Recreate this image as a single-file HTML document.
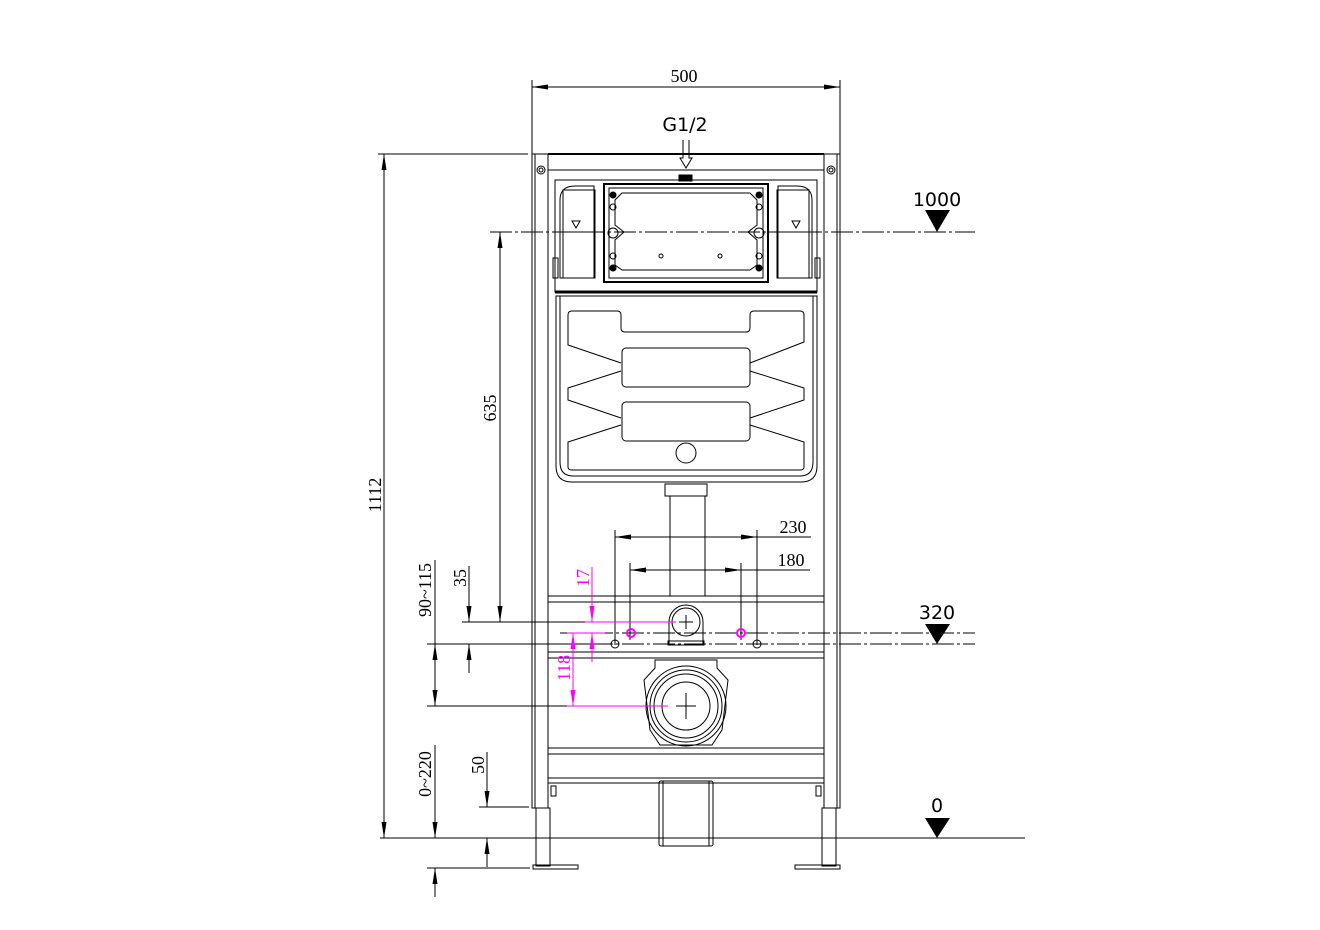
<!DOCTYPE html>
<html><head><meta charset="utf-8"><style>
html,body{margin:0;padding:0;background:#fff}
svg{display:block}
text{font-family:"Liberation Serif",serif;font-size:18px;fill:#000}
</style></head><body>
<svg width="1320" height="930" viewBox="0 0 1320 930" xmlns="http://www.w3.org/2000/svg">
<defs>
<marker id="a" viewBox="0 0 16 5" refX="16" refY="2.5" markerWidth="16" markerHeight="5" markerUnits="userSpaceOnUse" orient="auto-start-reverse"><path d="M0,0 L16,2.5 L0,5z" fill="#000"/></marker>
<marker id="m" viewBox="0 0 16 5" refX="16" refY="2.5" markerWidth="16" markerHeight="5" markerUnits="userSpaceOnUse" orient="auto-start-reverse"><path d="M0,0 L16,2.5 L0,5z" fill="#f0f"/></marker>
</defs>
<g stroke="#000" stroke-width="1" fill="none">
<line x1="532" y1="80" x2="532" y2="154"/><line x1="840" y1="80" x2="840" y2="154"/>
<line x1="532" y1="87" x2="840" y2="87" marker-start="url(#a)" marker-end="url(#a)"/>
<path d="M683,140 V158 H680 L686,168 L692,158 H689 V140"/>
<line x1="378" y1="154" x2="528" y2="154"/>
<line x1="384" y1="154" x2="384" y2="838" marker-start="url(#a)" marker-end="url(#a)"/>
<line x1="380" y1="838" x2="1025" y2="838"/>
<line x1="490" y1="232" x2="975" y2="232" stroke-dasharray="22,3,3,3"/>
<line x1="500" y1="232" x2="500" y2="622" marker-start="url(#a)" marker-end="url(#a)"/>
<line x1="560" y1="633" x2="975" y2="633" stroke-dasharray="22,3,3,3"/>
<line x1="560" y1="644" x2="975" y2="644" stroke-dasharray="22,3,3,3"/>
<line x1="427" y1="644" x2="610" y2="644"/>
<line x1="462" y1="622" x2="585" y2="622"/>
<line x1="427" y1="706" x2="567" y2="706"/>
<line x1="435" y1="560" x2="435" y2="644"/>
<line x1="435" y1="644" x2="435" y2="706" marker-start="url(#a)" marker-end="url(#a)"/>
<line x1="469" y1="566" x2="469" y2="622" marker-end="url(#a)"/>
<line x1="469" y1="644" x2="469" y2="673" marker-start="url(#a)"/>
<line x1="615" y1="530" x2="615" y2="645"/><line x1="757" y1="530" x2="757" y2="645"/>
<line x1="615" y1="537" x2="757" y2="537" marker-start="url(#a)" marker-end="url(#a)"/>
<line x1="757" y1="537" x2="811" y2="537"/>
<line x1="630" y1="563" x2="630" y2="640"/><line x1="741" y1="563" x2="741" y2="640"/>
<line x1="630" y1="570" x2="741" y2="570" marker-start="url(#a)" marker-end="url(#a)"/>
<line x1="741" y1="570" x2="810" y2="570"/>
<circle cx="615" cy="644" r="4"/><circle cx="757" cy="644" r="4"/>
<line x1="427" y1="868" x2="530" y2="868"/>
<line x1="479" y1="807" x2="529" y2="807"/>
<line x1="435" y1="745" x2="435" y2="838" marker-end="url(#a)"/>
<line x1="435" y1="868" x2="435" y2="897" marker-start="url(#a)"/>
<line x1="487" y1="752" x2="487" y2="807" marker-end="url(#a)"/>
<line x1="487" y1="838" x2="487" y2="867" marker-start="url(#a)"/>

<rect x="532" y="154" width="16" height="654"/>
<rect x="824" y="154" width="16" height="654"/>
<line x1="535" y1="154" x2="535" y2="808"/><line x1="837" y1="154" x2="837" y2="808"/>
<line x1="548" y1="154" x2="824" y2="154" stroke-width="2"/>
<line x1="548" y1="170" x2="824" y2="170"/>
<circle cx="541" cy="170" r="4"/><circle cx="541" cy="170" r="2"/>
<circle cx="831" cy="170" r="4"/><circle cx="831" cy="170" r="2"/>
<rect x="536" y="808" width="14" height="58"/><rect x="822" y="808" width="14" height="58"/>
<rect x="533" y="865" width="45" height="4"/><rect x="795" y="865" width="45" height="4"/>
<rect x="551" y="786" width="5" height="10"/><rect x="816" y="786" width="5" height="10"/>
<rect x="555" y="180" width="262" height="112"/>
<path d="M575,186 H594 V278 H560 V200 Q560,186 575,186z"/>
<path d="M797,186 H778 V278 H812 V200 Q812,186 797,186z"/>
<rect x="563" y="190" width="32" height="88"/>
<rect x="777" y="190" width="32" height="88"/>
<line x1="563" y1="232" x2="595" y2="232"/><line x1="777" y1="232" x2="809" y2="232"/>
<path d="M572,221 h8 l-4,7z"/><path d="M792,221 h8 l-4,7z"/>
<rect x="553" y="258" width="5" height="20"/><rect x="815" y="258" width="5" height="20"/>
<rect x="604" y="184" width="164" height="98" stroke-width="2"/>
<rect x="609" y="188" width="154" height="90"/>
<path d="M622,193 H750 L757,200 V225 L748,232 L757,240 V265 L750,270 H622 L615,265 V240 L624,232 L615,225 V200z"/>
<rect x="679" y="175" width="13" height="6" fill="#000"/>
<circle cx="613" cy="195" r="3" fill="#000"/><circle cx="759" cy="195" r="3" fill="#000"/>
<circle cx="613" cy="268" r="3" fill="#000"/><circle cx="759" cy="268" r="3" fill="#000"/>
<circle cx="613" cy="233" r="5"/><circle cx="759" cy="233" r="5"/>
<circle cx="613" cy="207" r="3"/><circle cx="759" cy="207" r="3"/>
<circle cx="613" cy="256" r="3"/><circle cx="759" cy="256" r="3"/>
<circle cx="661" cy="256" r="2"/><circle cx="720" cy="256" r="2"/>
<line x1="555" y1="292" x2="817" y2="292" stroke-width="3"/>
<path d="M556,296 H817 V466 Q817,482 801,482 H572 Q556,482 556,466z"/>
<path d="M560,296 H813 V462 Q813,476 800,476 H573 Q560,476 560,462z"/>
<path d="M572,311 H617 Q621,311 621,315 V328 Q621,332 625,332 H746 Q750,332 750,328 V315 Q750,311 754,311 H800 Q804,311 804,315 V342 L750,363 M621,363 L568,345 V315 Q568,311 572,311"/>
<rect x="622" y="348" width="128" height="39" rx="4"/>
<path d="M621,371 L568,388 V400 L621,418 M750,371 L804,388 V400 L750,418"/>
<rect x="622" y="402" width="128" height="39" rx="4"/>
<path d="M621,425 L568,442 V467 Q568,470 572,470 H800 Q804,470 804,467 V442 L750,425"/>
<circle cx="686" cy="453" r="10"/>
<rect x="665" y="484" width="42" height="12"/>
<rect x="670" y="496" width="35" height="100"/>
<rect x="548" y="596" width="276" height="6"/>
<rect x="548" y="652" width="276" height="6"/>
<rect x="548" y="748" width="276" height="6"/>
<rect x="548" y="778" width="276" height="5"/>
<path d="M669,644 V622 A17,17 0 0 1 703,622 V644"/>
<circle cx="686" cy="622" r="14"/>
<rect x="668" y="641" width="36" height="4"/>
<line x1="679" y1="622" x2="693" y2="622"/><line x1="686" y1="615" x2="686" y2="629"/>
<path d="M655,660 H717 V668 L728,680 L722,730 L712,745 H660 L650,730 L644,680 L655,668z"/>
<circle cx="686" cy="706" r="40"/><circle cx="686" cy="706" r="36"/><circle cx="686" cy="706" r="32"/><circle cx="686" cy="706" r="24"/>
<line x1="676" y1="706" x2="696" y2="706"/><line x1="686" y1="693" x2="686" y2="719"/>
<rect x="659" y="781" width="54" height="65" rx="2"/>
<line x1="663" y1="781" x2="663" y2="846"/><line x1="709" y1="781" x2="709" y2="846"/>
</g>
<g stroke="#f0f" stroke-width="1" fill="none">
<line x1="585" y1="622" x2="676" y2="622"/>
<line x1="567" y1="633" x2="605" y2="633"/>
<line x1="567" y1="706" x2="668" y2="706"/>
<line x1="592" y1="567" x2="592" y2="622" marker-end="url(#m)"/>
<line x1="592" y1="633" x2="592" y2="662" marker-start="url(#m)"/>
<line x1="573" y1="633" x2="573" y2="706" marker-start="url(#m)" marker-end="url(#m)"/>
<circle cx="631" cy="633" r="4" stroke-width="2"/><circle cx="741" cy="633" r="4" stroke-width="2"/>
</g>
<path d="M925,210 H950 L937,232z M925,624 H950 L937,644z M925,818 H950 L937,838z" fill="#000"/>
<text x="684" y="82" text-anchor="middle">500</text>
<text x="685" y="131" text-anchor="middle" style="font-family:'DejaVu Sans',sans-serif;font-size:19px">G1/2</text>
<text x="937" y="206" text-anchor="middle" style="font-family:'DejaVu Sans',sans-serif;font-size:19px">1000</text>
<text x="937" y="619" text-anchor="middle" style="font-family:'DejaVu Sans',sans-serif;font-size:19px">320</text>
<text x="937" y="812" text-anchor="middle" style="font-family:'DejaVu Sans',sans-serif;font-size:19px">0</text>
<text x="793" y="533" text-anchor="middle">230</text>
<text x="791" y="566" text-anchor="middle">180</text>
<text transform="translate(381,495) rotate(-90)" text-anchor="middle">1112</text>
<text transform="translate(496,408) rotate(-90)" text-anchor="middle">635</text>
<text transform="translate(431,590) rotate(-90)" text-anchor="middle">90~115</text>
<text transform="translate(466,578) rotate(-90)" text-anchor="middle">35</text>
<text transform="translate(589,578) rotate(-90)" text-anchor="middle" style="fill:#f0f">17</text>
<text transform="translate(570,668) rotate(-90)" text-anchor="middle" style="fill:#f0f">118</text>
<text transform="translate(431,774) rotate(-90)" text-anchor="middle">0~220</text>
<text transform="translate(484,765) rotate(-90)" text-anchor="middle">50</text>
</svg>
</body></html>
